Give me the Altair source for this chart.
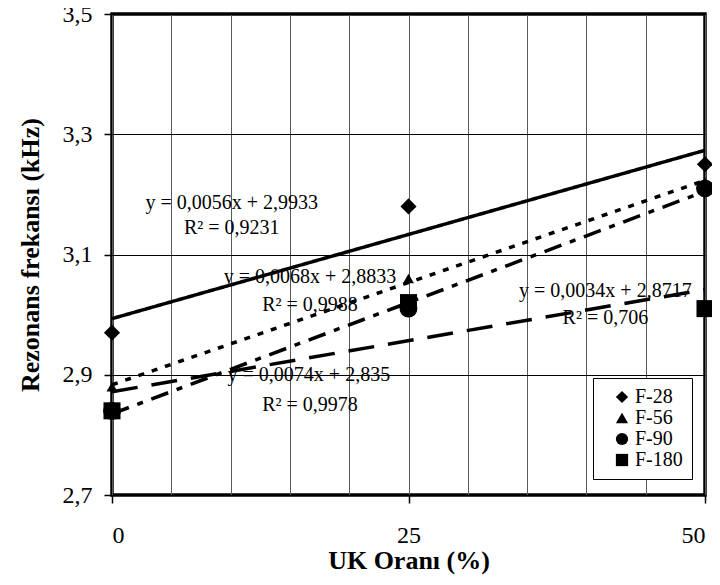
import altair as alt
import pandas as pd

# ---- data ----
uk = [0, 25, 50]
series = ["F-28", "F-56", "F-90", "F-180"]
f28 = [2.97, 3.18, 3.25]
f56 = [2.88, 3.06, 3.22]
f90 = [2.84, 3.01, 3.21]
f180 = [2.84, 3.02, 3.01]

shapes = ["diamond", "triangle-up", "circle", "square"]
sizes = [260, 120, 320, 290]
dashes = [[1, 0], [6, 8], [18, 9, 6, 9], [26, 14]]

y_ticks = [2.7, 2.9, 3.1, 3.3, 3.5]
x_grid = [0, 5, 10, 15, 20, 25, 30, 35, 40, 45, 50]

eq_text = ["y = 0,0056x + 2,9933", "R² = 0,9231",
           "y = 0,0068x + 2,8833", "R² = 0,9988",
           "y = 0,0034x + 2,8717", "R² = 0,706",
           "y = 0,0074x + 2,835", "R² = 0,9978"]
eq_x = [10.1, 10.1, 16.7, 16.7, 41.6, 41.6, 16.6, 16.7]
eq_y = [3.185, 3.144, 3.063, 3.016, 3.039, 2.995, 2.899, 2.849]

# ---- tables ----
rows = []
for name, vals in zip(series, [f28, f56, f90, f180]):
    for xv, yv in zip(uk, vals):
        rows.append({"series": name, "grp": name, "uk": xv, "freq": yv})
df = pd.DataFrame(rows)
ann = pd.DataFrame({"uk": eq_x, "freq": eq_y, "txt": eq_text})

FONT = "Liberation Serif"

x_axis = alt.Axis(
    values=x_grid, grid=True, gridColor="#5a5a5a", gridWidth=1,
    labelExpr="datum.value % 25 === 0 ? datum.label : ''",
    tickOpacity={"condition": {"test": "datum.value % 25 !== 0", "value": 0}, "value": 1},
    tickSize=8, tickColor="black", tickWidth=1.5,
    labelFont=FONT, labelFontSize=24, labelColor="black", labelPadding=20,
    title="UK Oranı (%)", titleFont=FONT, titleFontSize=26, titleFontWeight="bold",
    titleColor="black", titleY=65, titleBaseline="middle", domain=False,
)
y_axis = alt.Axis(
    values=y_ticks, grid=True, gridColor="black", gridWidth=1,
    labelExpr="replace(format(datum.value, '.1f'), '.', ',')",
    tickSize=8, tickColor="black", tickWidth=1.5,
    labelFont=FONT, labelFontSize=24, labelColor="black", labelPadding=12,
    title="Rezonans frekansı (kHz)", titleFont=FONT, titleFontSize=26,
    titleFontWeight="bold", titleColor="black", titleX=-82, titleBaseline="middle",
    domain=False,
)

xs = alt.Scale(domain=[0, 50], nice=False, zero=False)
ys = alt.Scale(domain=[2.7, 3.5], nice=False, zero=False)
shape_scale = alt.Scale(domain=series, range=shapes)
# dash scale uses a differently ordered domain so its (hidden) legend is not merged with the shape legend
dash_scale = alt.Scale(domain=series[::-1], range=dashes[::-1])

lines = alt.Chart(df).transform_regression(
    "uk", "freq", groupby=["grp"], extent=[0, 50]
).mark_line(color="black", strokeWidth=3.5).encode(
    x=alt.X("uk:Q", scale=xs, axis=x_axis),
    y=alt.Y("freq:Q", scale=ys, axis=y_axis),
    strokeDash=alt.StrokeDash("grp:N", scale=dash_scale, legend=None),
)

legend = alt.Legend(
    orient="none", legendX=481, legendY=364, title=None,
    labelFont=FONT, labelFontSize=20, labelColor="black",
    strokeColor="black", fillColor="white", padding=9, symbolOffset=10,
    rowPadding=1, symbolFillColor="black", symbolStrokeColor="black",
    symbolSize=150, labelOffset=3,
)

point_layers = []
for name, sz in zip(series, sizes):
    point_layers.append(
        alt.Chart(df).transform_filter(alt.datum.series == name)
        .mark_point(filled=True, color="black", opacity=1, size=sz)
        .encode(
            x=alt.X("uk:Q", scale=xs),
            y=alt.Y("freq:Q", scale=ys),
            shape=alt.Shape("series:N", scale=shape_scale, legend=legend),
        )
    )

texts = alt.Chart(ann).mark_text(font=FONT, fontSize=20, color="black").encode(
    x=alt.X("uk:Q", scale=xs),
    y=alt.Y("freq:Q", scale=ys),
    text="txt:N",
)

chart = alt.layer(lines, *point_layers, texts).properties(
    width=593, height=481,
    autosize=alt.AutoSizeParams(type="none"),
    padding={"left": 104, "top": 6, "right": 7, "bottom": 82},
).configure_view(
    stroke="black", strokeWidth=3.5
).configure_legend(
    labelFont=FONT, labelFontSize=20, labelColor="black"
)

chart.save("out.html", embed_options={"renderer": "svg", "actions": False})
